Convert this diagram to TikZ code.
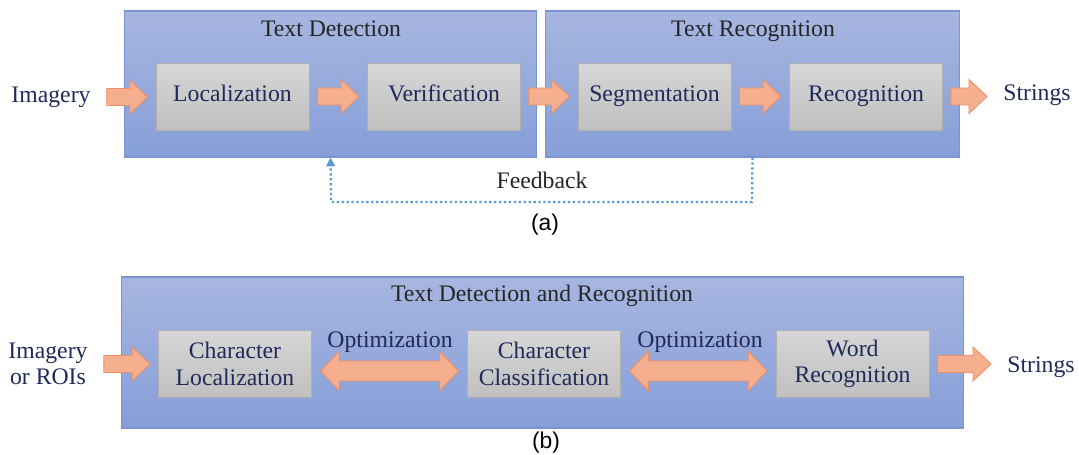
\documentclass[tikz,border=0pt]{standalone}
\usepackage{fontspec}
\setmainfont{Liberation Serif}
\newfontfamily\capfont{Liberation Sans}
\usepackage{tikz}
\usetikzlibrary{calc,arrows.meta}

\definecolor{boxtop}{HTML}{A7B6E0}
\definecolor{boxbot}{HTML}{869ED8}
\definecolor{boxedge}{HTML}{7B93CF}
\definecolor{graytop}{HTML}{D6D6D6}
\definecolor{graybot}{HTML}{C0C0C0}
\definecolor{grayedge}{HTML}{B0B0B0}
\definecolor{arrfill}{HTML}{F5AE8E}
\definecolor{arredge}{HTML}{EC8E66}
\definecolor{navy}{HTML}{1F2A5B}
\definecolor{fbblue}{HTML}{5B9BD5}

% fat block arrow between two anchors
\newcommand{\fatarrow}[2]{%
  \draw[fatarr] let \p1=(#1), \p2=(#2) in
    (\x1+0.16cm,\y1+0.17cm) -- (\x2-0.52cm,\y1+0.17cm) -- (\x2-0.52cm,\y1+0.34cm)
    -- (\x2-0.16cm,\y1) -- (\x2-0.52cm,\y1-0.34cm) -- (\x2-0.52cm,\y1-0.17cm)
    -- (\x1+0.16cm,\y1-0.17cm) -- cycle;}
% double headed block arrow
\newcommand{\dblarrow}[2]{%
  \draw[fatarr] let \p1=(#1), \p2=(#2) in
    (\x1+0.17cm,\y1) -- (\x1+0.55cm,\y1+0.40cm) -- (\x1+0.55cm,\y1+0.20cm)
    -- (\x2-0.55cm,\y1+0.20cm) -- (\x2-0.55cm,\y1+0.40cm) -- (\x2-0.17cm,\y1)
    -- (\x2-0.55cm,\y1-0.40cm) -- (\x2-0.55cm,\y1-0.20cm) -- (\x1+0.55cm,\y1-0.20cm)
    -- (\x1+0.55cm,\y1-0.40cm) -- cycle;}

\begin{document}
\begin{tikzpicture}[x=0.02cm,y=-0.02cm,>=latex,
	every node/.style={font=\fontsize{13.5}{15}\selectfont},
	stage/.style={draw=boxedge,top color=boxtop,bottom color=boxbot,line width=0.6pt},
	block/.style={draw=grayedge,top color=graytop,bottom color=graybot,line width=0.5pt,
		minimum width=3.06cm,minimum height=1.34cm,text=navy,align=center},
	label/.style={text=navy,inner sep=0.16cm,align=center},
	fatarr/.style={fill=arrfill,draw=arredge,line width=0.5pt,line join=miter},
	feedback/.style={draw=fbblue,line width=1.3pt,dash pattern=on 1.3pt off 1.5pt}]

	\useasboundingbox (0,0) rectangle (1079,455);

	% (a) two stage pipeline
	\node[stage,minimum width=8.26cm,minimum height=2.92cm] (det) at (330.5,84) {};
	\node[stage,minimum width=8.30cm,minimum height=2.92cm] (rec) at (752.5,84) {};
	\node[text=black!85] (dettitle) at (331,31) {Text Detection\strut};
	\node[text=black!85] (rectitle) at (753,31) {Text Recognition\strut};

	\node[block] (loc) at (232.5,96.5) {Localization\strut};
	\node[block] (ver) at (444,96.5) {Verification\strut};
	\node[block] (seg) at (654.5,96.5) {Segmentation\strut};
	\node[block] (rcg) at (866,96.5) {Recognition\strut};

	\node[label] (imga) at (51,97) {Imagery\strut};
	\node[label] (stra) at (1037,95) {Strings\strut};

	% Draw the arrows along the pipeline
	\fatarrow{imga.east}{loc.west}
	\fatarrow{loc.east}{ver.west}
	\fatarrow{ver.east}{seg.west}
	\fatarrow{seg.east}{rcg.west}
	\fatarrow{rcg.east}{stra.west}

	% Draw the feedback loop
	\coordinate (fbr) at (752,202);
	\coordinate (fbl) at (331,202);
	\draw[feedback,-{Triangle[width=5pt,length=5pt]}] (rec.south) -- (fbr) -- (fbl) -- (det.south);
	\node[text=black!85] (fb) at (542,183) {Feedback\strut};
	\node[font=\capfont\fontsize{13}{15}\selectfont] (capa) at (545,225) {(a)};

	% (b) joint pipeline
	\node[stage,minimum width=16.86cm,minimum height=3.02cm] (joint) at (542.5,352.5) {};
	\node[text=black!85] (jtitle) at (542,296) {Text Detection and Recognition\strut};

	\node[block] (cloc) at (235,364) {Character\\Localization};
	\node[block] (ccls) at (544,364) {Character\\Classification};
	\node[block] (word) at (852.5,364) {Word\\Recognition};

	\node[label] (imgb) at (48,364) {Imagery\\or ROIs};
	\node[label] (strb) at (1041,367) {Strings\strut};

	\node[text=navy] (opt1) at (390,342) {Optimization\strut};
	\node[text=navy] (opt2) at (700,342) {Optimization\strut};

	% Draw the arrows of the joint pipeline
	\fatarrow{imgb.east}{cloc.west}
	\dblarrow{$(cloc.east)+(0,7)$}{$(ccls.west)+(0,7)$}
	\dblarrow{$(ccls.east)+(0,7)$}{$(word.west)+(0,7)$}
	\fatarrow{word.east}{strb.west}

	\node[font=\capfont\fontsize{13}{15}\selectfont] (capb) at (546,443) {(b)};

\end{tikzpicture}
\end{document}
